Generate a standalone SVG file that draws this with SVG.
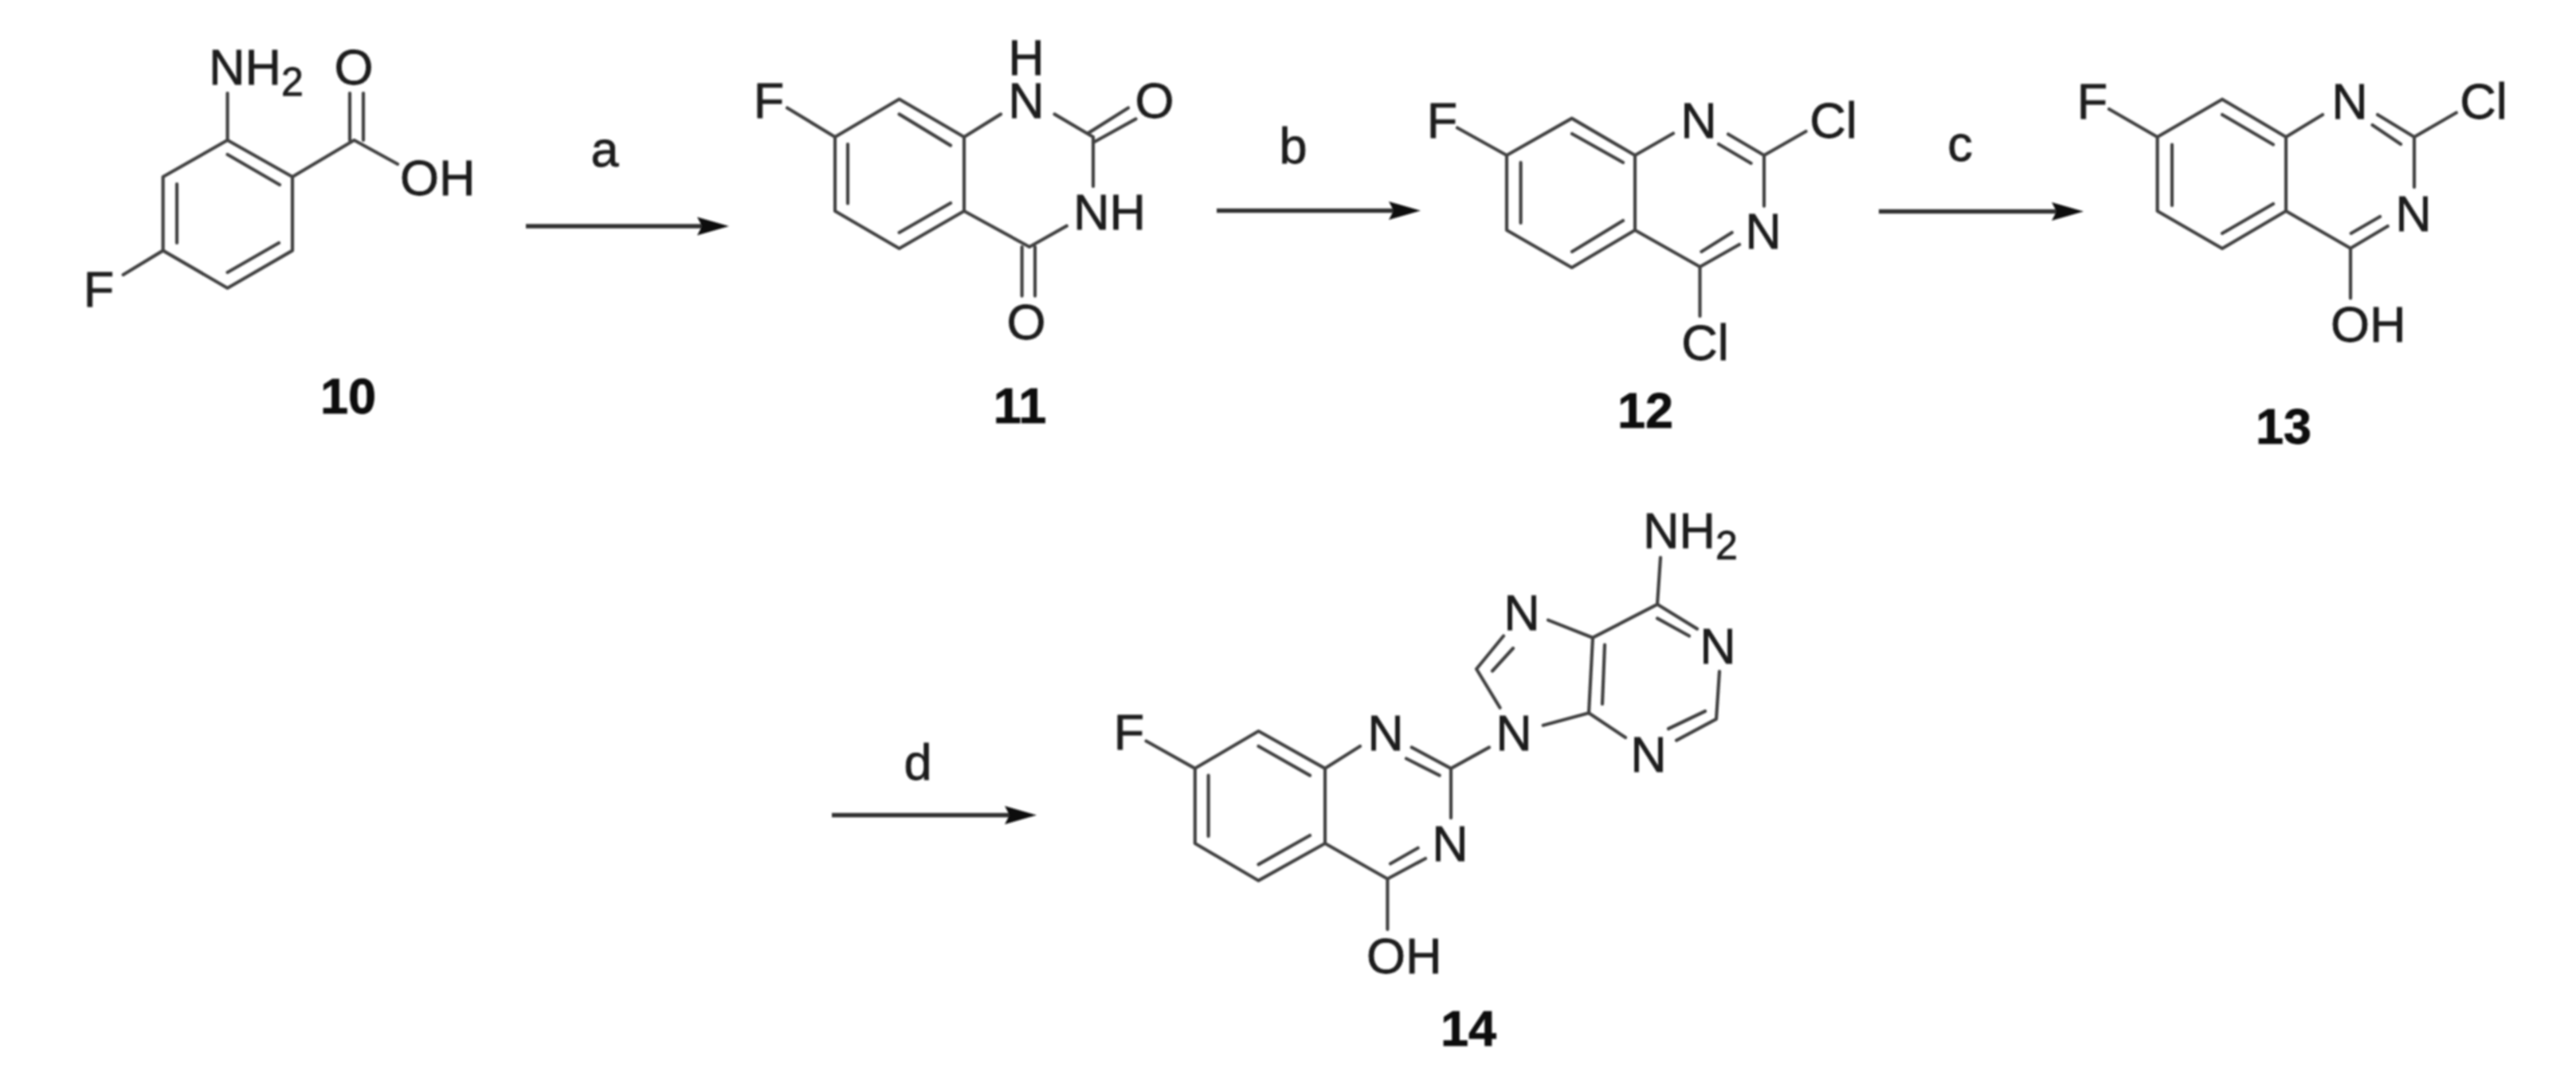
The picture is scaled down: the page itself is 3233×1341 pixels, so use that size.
<svg xmlns="http://www.w3.org/2000/svg" width="3233" height="1341" viewBox="0 0 3233 1341">
<style>
.b{fill:none;stroke:#404040;stroke-width:4.200;stroke-linecap:round;stroke-linejoin:round}
.t{font-family:"Liberation Sans",Arial,sans-serif;font-size:63px;fill:#1c1c1c;stroke:#1c1c1c;stroke-width:.8px}
.s{font-size:50px}
.m{text-anchor:middle}
.l{font-weight:bold;fill:#111;stroke:#111;text-anchor:middle}
.a{fill:none;stroke:#333;stroke-width:5.500;marker-end:url(#h)}
</style>
<defs>
<marker id="h" markerUnits="userSpaceOnUse" markerWidth="42" markerHeight="26" refX="6" refY="12" orient="auto"><path d="M0 .5L40 12L0 23.500L6 12Z" fill="#111"/></marker>
<filter id="soft" x="0" y="0" width="100%" height="100%" filterUnits="objectBoundingBox"><feGaussianBlur stdDeviation="0.9"/></filter>
</defs>
<rect width="3233" height="1341" fill="#fff"/>
<g filter="url(#soft)">
<g id="connectors">
<path class="a" d="M660 284H881"/>
<path class="a" d="M1527 264.500H1749"/>
<path class="a" d="M2358 265.500H2581"/>
<path class="a" d="M1044 1023.500H1267"/>
</g>
<g id="step-labels">
<text class="t m" x="759" y="209">a</text>
<text class="t m" x="1623" y="205">b</text>
<text class="t m" x="2460" y="202">c</text>
<text class="t m" x="1152" y="979">d</text>
</g>
<g id="compound-10">
<path class="b" d="M285.500 176L367 222V314.600L285.500 361.700L204.600 314.600V222ZM222 231V305M285.500 194L351 232M285.500 342L350 305M285.500 176V117M367 222L444.500 176L499 206M439 176V117M456 176V117M204.600 314.600L154.600 345"/>
<text class="t" x="262" y="106">NH<tspan class="s" dy="14">2</tspan></text>
<text class="t m" x="444" y="106">O</text>
<text class="t" x="502" y="245">OH</text>
<text class="t m" x="124" y="385">F</text>
<text class="t l" x="437" y="519">10</text>
</g>
<g id="compound-11">
<path class="b" d="M1048 172L1128.600 124.500L1210 172V265L1128.600 312L1048 265ZM1064 181V255.500M1128.600 143.400L1193 182.600M1128.600 292L1193 255M1048 172L988 135.500M1210 172L1256 143.400M1323.500 143.400L1372 172V234M1365 167.600L1416 135.500M1372 179L1425.500 149.400M1338.800 283.700L1292 310L1210 265M1282.600 310V371.600M1299 310V371.600"/>
<text class="t m" x="1288" y="94"><tspan x="1288">H</tspan><tspan x="1288" dy="54">N</tspan></text>
<text class="t m" x="965" y="148">F</text>
<text class="t m" x="1449" y="148">O</text>
<text class="t" x="1347" y="288">NH</text>
<text class="t m" x="1288" y="426">O</text>
<text class="t l" x="1280" y="531">11</text>
</g>
<g id="compound-12">
<path class="b" d="M1891 195L1972.700 148.600L2052 195V289L1972.700 336L1891 289ZM1908.600 204V280M1973 168L2037 204M1973 316L2037 277M1891 195L1829 160.500M2052 195L2100 167.500M2169 168.500L2214 195L2266.500 165M2157 181L2197.600 205M2214 195V258.700M2052 289L2133.500 335L2183 307M2135.400 316L2173.700 292M2133.500 335V397"/>
<text class="t m" x="1810" y="173">F</text>
<text class="t m" x="2132" y="173">N</text>
<text class="t m" x="2301" y="173">Cl</text>
<text class="t m" x="2213" y="312">N</text>
<text class="t m" x="2140" y="452">Cl</text>
<text class="t l" x="2065" y="537">12</text>
</g>
<g id="compound-13">
<path class="b" d="M2707.600 172L2789 124.700L2869 172V265L2789 312L2707.600 265ZM2726 181.500V258M2789 144L2853 181.500M2789 293L2853 256M2707.600 172L2647 137M2869 172L2915 144M2984 144L3030 172L3082.800 141.500M2977.500 157L3013 181M3030 172V235M2869 265L2950 311.700L2996.700 284M2950.700 293L2987 272M2950 311.700V374.400"/>
<text class="t m" x="2626" y="149">F</text>
<text class="t m" x="2949" y="149">N</text>
<text class="t m" x="3117" y="149">Cl</text>
<text class="t m" x="3029" y="290">N</text>
<text class="t" x="2925" y="429">OH</text>
<text class="t l" x="2866" y="557">13</text>
</g>
<g id="compound-14">
<path class="b" d="M1499.800 964.800L1579.500 918L1663 964.800V1059L1579.500 1105.700L1499.800 1059ZM1516.600 973.600V1050M1579.500 937L1644 973.600M1579.500 1085.400L1644 1049M1499.800 964.800L1438.500 930.500M1663 964.800L1707 937M1771.700 938.400L1821 964.800L1869 938.400M1765 952.500L1806.700 973.600M1821 964.800V1027M1663 1059L1741.400 1103.500L1789 1078M1745 1084.500L1779.600 1064.700M1741.400 1103.500V1166.900"/>
<path class="b" d="M1936.700 910.700L1994 895.300L1999 800.700L1943 778.600M2011 884L2014 809.500M1887 798.500L1853 840L1882.500 888.700M1899 814L1873 842.500M1999 800.700L2080 758.800L2130 789.600M2084 700L2080 758.800M2080 776.400L2120 798.500M2158 843L2154 902.800L2104 929.600M2140 893L2094 915M2040 926L1994 895.300"/>
<text class="t m" x="1417" y="941">F</text>
<text class="t m" x="1739" y="942">N</text>
<text class="t m" x="1900" y="942">N</text>
<text class="t m" x="1820" y="1081">N</text>
<text class="t" x="1715" y="1222">OH</text>
<text class="t m" x="1910" y="791">N</text>
<text class="t m" x="2156" y="833">N</text>
<text class="t m" x="2069" y="969">N</text>
<text class="t" x="2062" y="688">NH<tspan class="s" dy="14">2</tspan></text>
<text class="t l" x="1843" y="1313">14</text>
</g>
</g>
</svg>
